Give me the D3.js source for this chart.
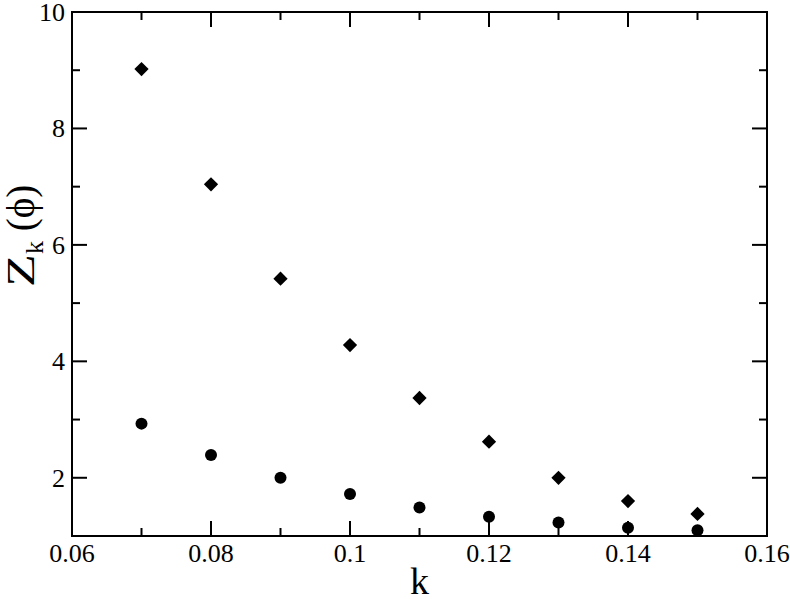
<!DOCTYPE html>
<html><head><meta charset="utf-8">
<script src="https://cdn.jsdelivr.net/npm/d3@7"></script>
<style>body{margin:0;background:#fff}svg{display:block}
svg text{font-family:"Liberation Serif","Times New Roman",serif;}</style>
</head><body>
<svg id="c" width="790" height="599"></svg>
<script>
const kValues = [0.07, 0.08, 0.09, 0.10, 0.11, 0.12, 0.13, 0.14, 0.15];
const diamondSeries = [9.02, 7.04, 5.42, 4.28, 3.37, 2.62, 2.00, 1.60, 1.38];
const circleSeries = [2.93, 2.39, 2.00, 1.72, 1.49, 1.33, 1.23, 1.14, 1.10];
const xTicks = [0.06, 0.08, 0.10, 0.12, 0.14, 0.16];
const xTickLabels = ["0.06", "0.08", "0.1", "0.12", "0.14", "0.16"];
const xMinorTicks = [0.07, 0.09, 0.11, 0.13, 0.15];
const yTicks = [2, 4, 6, 8, 10];
const yMinorTicks = [1, 3, 5, 7, 9];

const svg = d3.select("#c");
const L = 72, R = 767, T = 12, B = 536;
const x = d3.scaleLinear().domain([0.06, 0.16]).range([L, R]);
const y = d3.scaleLinear().domain([1, 10]).range([B, T]);

svg.append("rect").attr("x", L).attr("y", T).attr("width", R - L).attr("height", B - T)
  .attr("fill", "none").attr("stroke", "#000").attr("stroke-width", 2);

const major = 15, minor = 8;
const g = svg.append("g").attr("stroke", "#000").attr("stroke-width", 2);
function xt(v, len) {
  g.append("line").attr("x1", x(v)).attr("x2", x(v)).attr("y1", B).attr("y2", B - len);
  g.append("line").attr("x1", x(v)).attr("x2", x(v)).attr("y1", T).attr("y2", T + len);
}
function yt(v, len) {
  g.append("line").attr("y1", y(v)).attr("y2", y(v)).attr("x1", L).attr("x2", L + len);
  g.append("line").attr("y1", y(v)).attr("y2", y(v)).attr("x1", R).attr("x2", R - len);
}
xTicks.forEach(v => xt(v, major));
xMinorTicks.forEach(v => xt(v, minor));
yTicks.forEach(v => yt(v, major));
yMinorTicks.forEach(v => yt(v, minor));

svg.append("g").selectAll("text").data(xTicks).join("text")
  .attr("x", d => x(d)).attr("y", 562).attr("text-anchor", "middle")
  .attr("font-size", 26)
  .text((d, i) => xTickLabels[i]);
svg.append("g").selectAll("text").data(yTicks).join("text")
  .attr("x", 65).attr("y", d => y(d) + 9).attr("text-anchor", "end")
  .attr("font-size", 26)
  .text(d => d);

svg.append("text").attr("x", (L + R) / 2).attr("y", 594).attr("text-anchor", "middle")
  .attr("font-size", 38).text("k");
const yl = svg.append("text").attr("transform", "translate(34,287) rotate(-90)")
  .attr("text-anchor", "start").attr("font-size", 39);
yl.append("tspan").attr("textLength", 33).attr("lengthAdjust", "spacingAndGlyphs").text("Z");
yl.append("tspan").attr("font-size", 26).attr("dy", 9).text("k");
yl.append("tspan").attr("dy", -9).text(" (\u03d5)");

const diamond = d3.symbol().type(d3.symbolDiamond2).size(130);
svg.append("g").selectAll("path").data(kValues).join("path")
  .attr("transform", (d, i) => `translate(${x(d)},${y(diamondSeries[i])})`)
  .attr("d", diamond).attr("fill", "#000");
svg.append("g").selectAll("circle").data(kValues).join("circle")
  .attr("cx", d => x(d)).attr("cy", (d, i) => y(circleSeries[i]))
  .attr("r", 6).attr("fill", "#000");
</script>
</body></html>
